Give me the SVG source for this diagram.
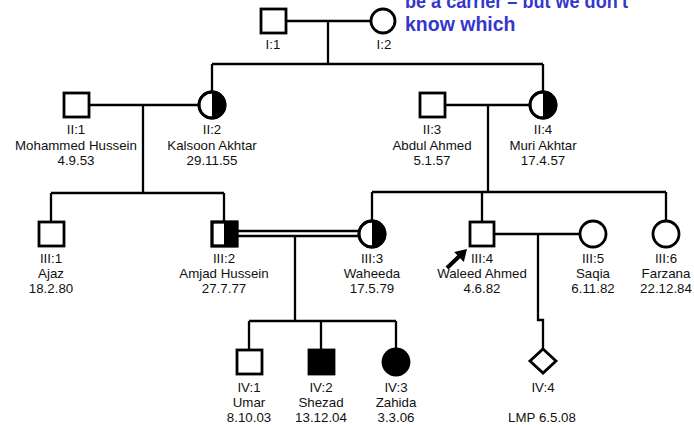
<svg xmlns="http://www.w3.org/2000/svg" width="694" height="425" viewBox="0 0 694 425">
<style>
.sym{fill:#fff;stroke:#000;stroke-width:2.8}
.aff{fill:#000;stroke:#000;stroke-width:2.8}
.half{fill:#000;stroke:none}
.ln{fill:none;stroke:#000;stroke-width:2.3}
text{font-family:"Liberation Sans",Arial,sans-serif;font-size:13.3px;fill:#111;text-anchor:middle}
.note{font-size:19.5px;font-weight:bold;fill:#3636cc;text-anchor:start}
</style>
<rect width="694" height="425" fill="#fff"/>
<g id="note">
<text class="note" x="405" y="8" textLength="223" lengthAdjust="spacingAndGlyphs">be a carrier – but we don't</text>
<text class="note" x="405" y="31">know which</text>
</g>
<g id="connectors">
<path class="ln" d="M286,21 H371 M328,21 V64 M212,64 H543 M212,64 V92 M543,64 V92"/>
<path class="ln" d="M89,105 H199 M143,105 V193 M51,193 H224 M51,193 V222 M224,193 V222"/>
<path class="ln" d="M445,105 H530 M488,105 V192 M372,192 H666 M372,192 V221 M482,192 V222 M666,192 V221"/>
<path class="ln" d="M237,231 H359 M237,236 H359 M295,236 V321 M249,321 H396 M249,321 V350 M321,321 V350 M396,321 V348"/>
<path class="ln" d="M494,234 H580 M538,234 V320 H543 V349"/>
<g id="proband-arrow">
<path d="M447,268 L459,256.5" fill="none" stroke="#000" stroke-width="4"/>
<path d="M467,249 L463.8,262 L454.2,252 Z" fill="#000"/>
</g>
</g>
<g id="I1"><rect class="sym" x="261" y="9" width="25" height="24"/><text x="273" y="49">I:1</text></g>
<g id="I2"><circle class="sym" cx="383" cy="21" r="12"/><text x="384" y="49">I:2</text></g>
<g id="II1"><rect class="sym" x="64" y="93" width="25" height="24"/><text x="76" y="134">II:1</text><text x="76" y="150">Mohammed Hussein</text><text x="76" y="165">4.9.53</text></g>
<g id="II2"><circle class="sym" cx="212" cy="105" r="13"/><path class="half" d="M212,92 A13,13 0 0 1 212,118 Z"/><circle cx="212" cy="105" r="13" fill="none" stroke="#000" stroke-width="2.8"/><text x="212" y="134">II:2</text><text x="212" y="150">Kalsoon Akhtar</text><text x="212" y="165">29.11.55</text></g>
<g id="II3"><rect class="sym" x="420" y="93" width="25" height="24"/><text x="432" y="134">II:3</text><text x="432" y="150">Abdul Ahmed</text><text x="432" y="165">5.1.57</text></g>
<g id="II4"><circle class="sym" cx="543" cy="105" r="13"/><path class="half" d="M543,92 A13,13 0 0 1 543,118 Z"/><circle cx="543" cy="105" r="13" fill="none" stroke="#000" stroke-width="2.8"/><text x="543" y="134">II:4</text><text x="543" y="150">Muri Akhtar</text><text x="543" y="165">17.4.57</text></g>
<g id="III1"><rect class="sym" x="39" y="222" width="25" height="24"/><text x="51" y="263">III:1</text><text x="51" y="278">Ajaz</text><text x="51" y="293">18.2.80</text></g>
<g id="III2"><rect class="sym" x="212" y="222" width="25" height="24"/><rect class="half" x="224" y="222" width="13" height="24"/><rect x="212" y="222" width="25" height="24" fill="none" stroke="#000" stroke-width="2.8"/><text x="224" y="263">III:2</text><text x="224" y="278">Amjad Hussein</text><text x="224" y="293">27.7.77</text></g>
<g id="III3"><circle class="sym" cx="372" cy="234" r="13"/><path class="half" d="M372,221 A13,13 0 0 1 372,247 Z"/><circle cx="372" cy="234" r="13" fill="none" stroke="#000" stroke-width="2.8"/><text x="372" y="263">III:3</text><text x="372" y="278">Waheeda</text><text x="372" y="293">17.5.79</text></g>
<g id="III4"><rect class="sym" x="470" y="222" width="24" height="24"/><text x="482" y="263">III:4</text><text x="482" y="278">Waleed Ahmed</text><text x="482" y="293">4.6.82</text></g>
<g id="III5"><circle class="sym" cx="593" cy="234" r="13"/><text x="593" y="263">III:5</text><text x="593" y="278">Saqia</text><text x="593" y="293">6.11.82</text></g>
<g id="III6"><circle class="sym" cx="666" cy="234" r="13"/><text x="666" y="263">III:6</text><text x="666" y="278">Farzana</text><text x="666" y="293">22.12.84</text></g>
<g id="IV1"><rect class="sym" x="237" y="350" width="25" height="24"/><text x="249" y="392">IV:1</text><text x="249" y="407">Umar</text><text x="249" y="422">8.10.03</text></g>
<g id="IV2"><rect class="aff" x="309" y="350" width="25" height="24"/><text x="321" y="392">IV:2</text><text x="321" y="407">Shezad</text><text x="321" y="422">13.12.04</text></g>
<g id="IV3"><circle class="aff" cx="396" cy="362" r="13"/><text x="396" y="392">IV:3</text><text x="396" y="407">Zahida</text><text x="396" y="422">3.3.06</text></g>
<g id="IV4"><path class="sym" d="M543,349 L556,361 L543,373 L530,361 Z"/><text x="543" y="392">IV:4</text><text x="542" y="422">LMP 6.5.08</text></g>
</svg>
